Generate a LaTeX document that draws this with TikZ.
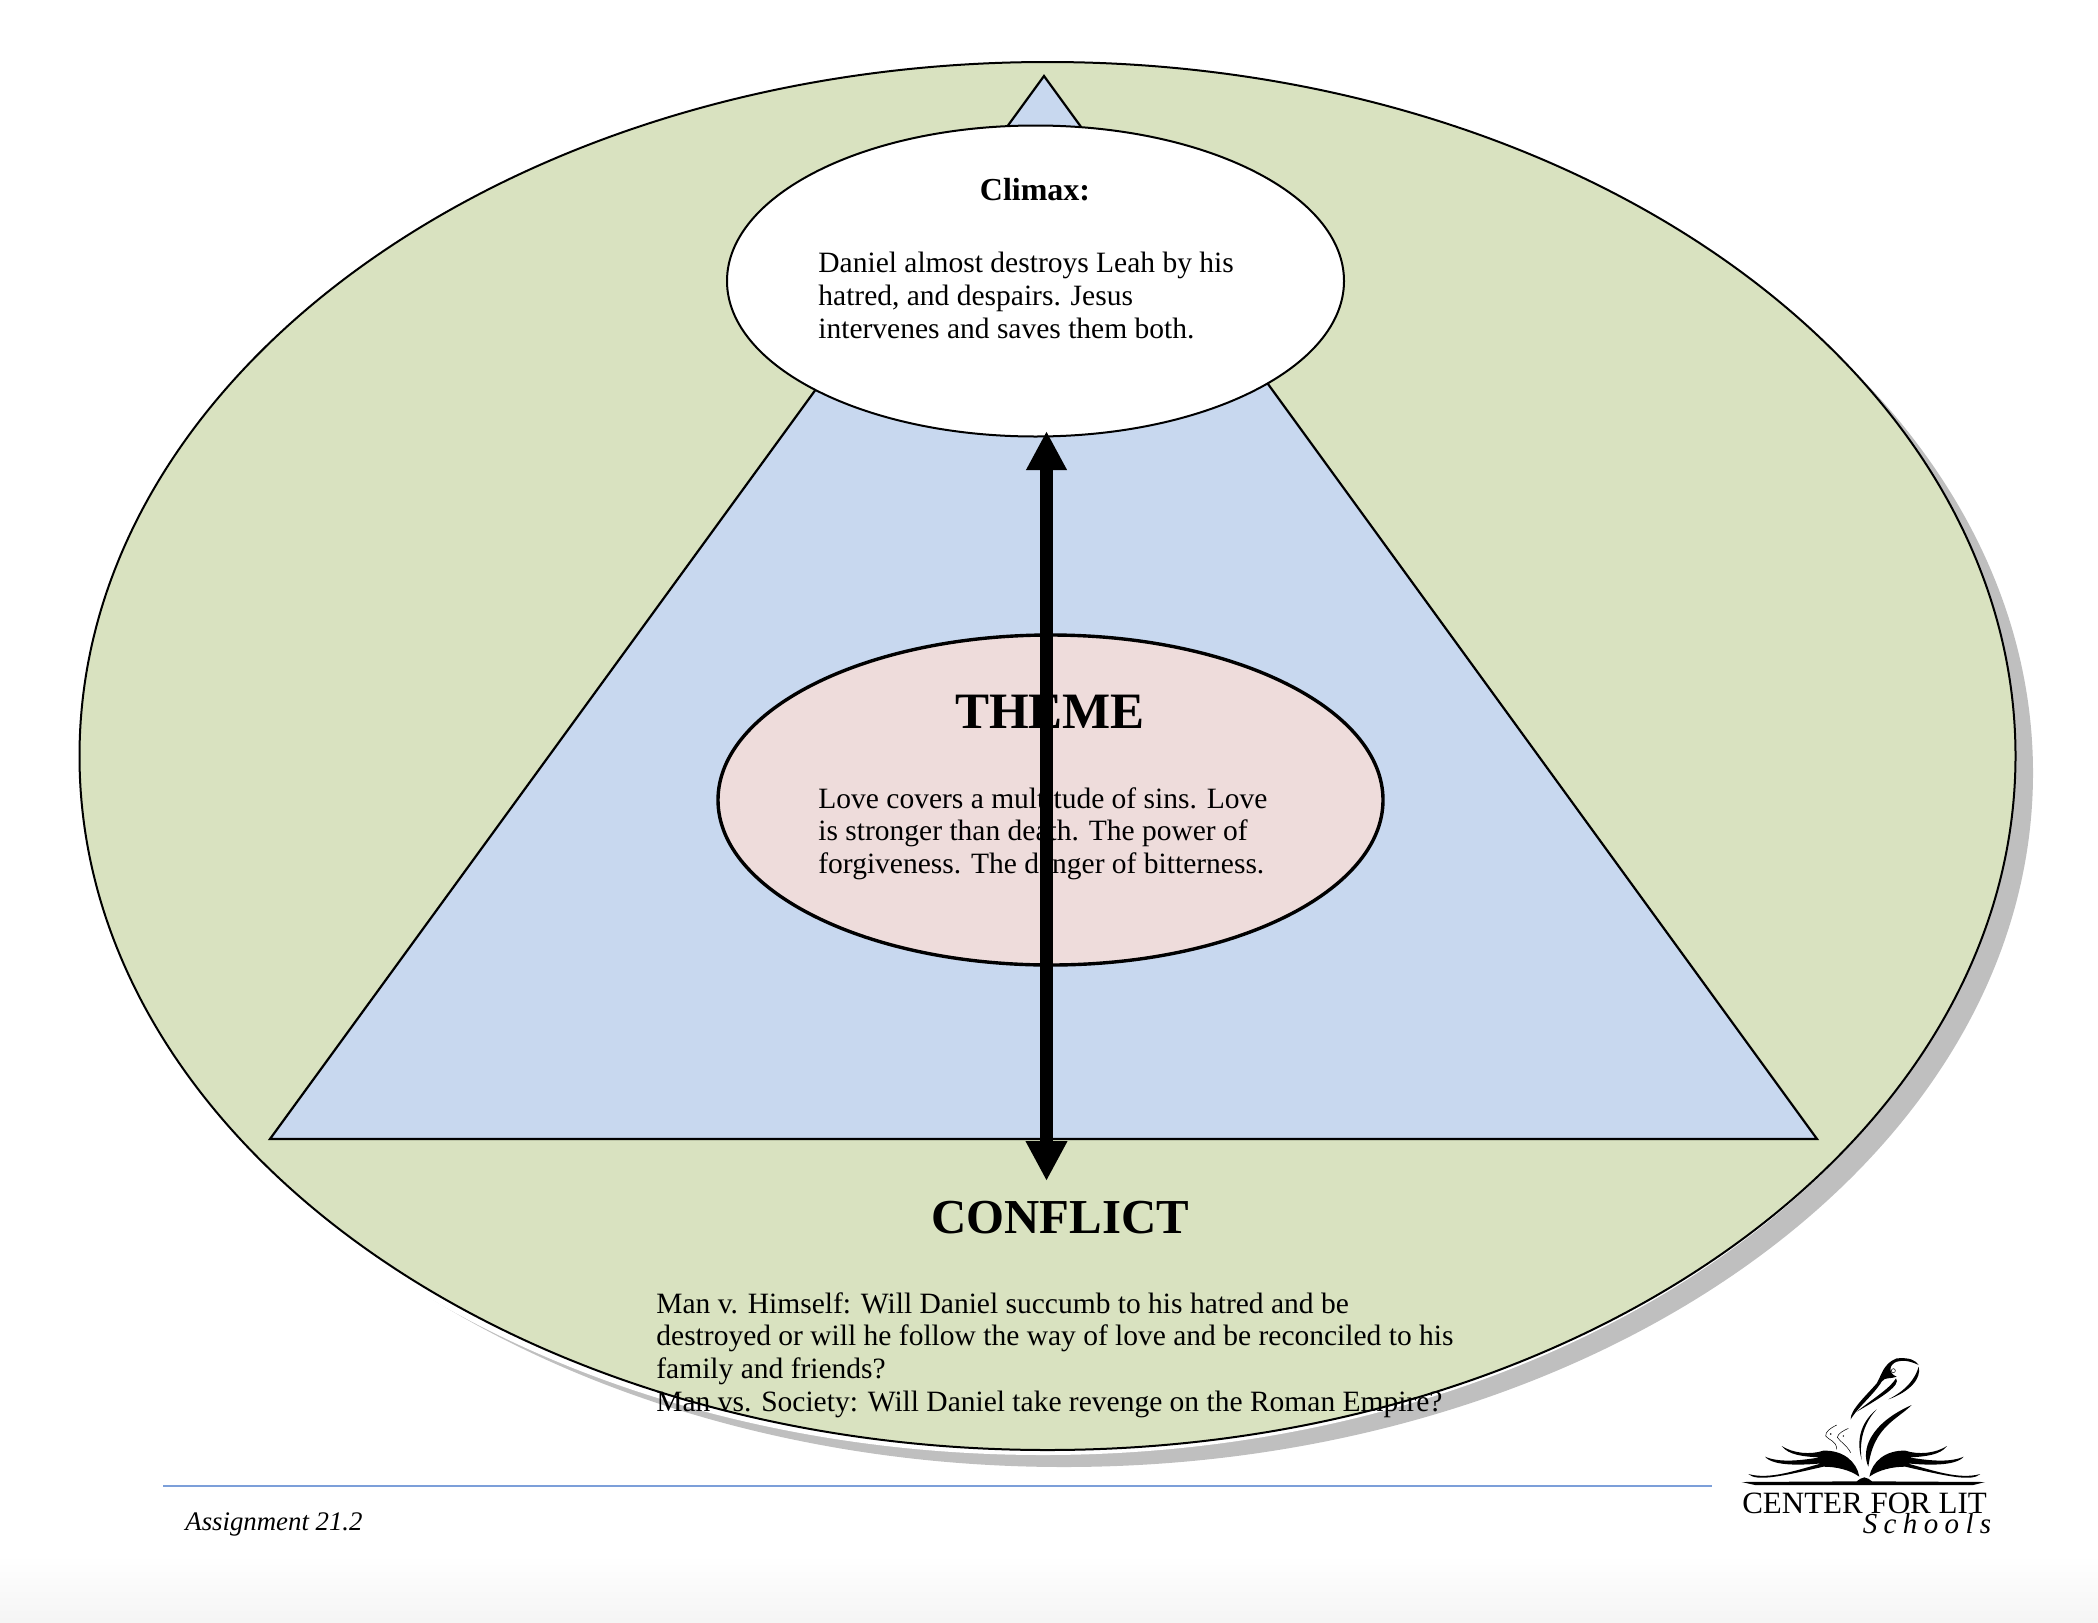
\documentclass[tikz,border=0pt]{standalone}
\usepackage{fontspec}
\setmainfont{Liberation Serif}
\newfontfamily\logoscript[LetterSpace=22]{Liberation Serif}
\usetikzlibrary{arrows.meta,positioning,shapes.geometric}
\definecolor{plotgreen}{HTML}{D9E2C0}
\definecolor{plotblue}{HTML}{C8D8EF}
\definecolor{themepink}{HTML}{EEDCDB}
\definecolor{shadowgray}{HTML}{BFBFBF}
\definecolor{rulecolor}{HTML}{7C9FD9}

\begin{document}
\begin{tikzpicture}[
        x=.5pt,y=-.5pt,
        oval/.style={ellipse,inner sep=0pt,outer sep=0pt},
        bodytext/.style={inner sep=0pt,anchor=north west,align=left,font=\fontsize{14.75}{16.4}\selectfont},
        heading/.style={inner sep=0pt,anchor=base,font=\fontsize{24.4}{26}\selectfont\bfseries},
        feather/.style={fill=black,draw=none},
        fineline/.style={draw=black,line width=.25pt}
      ]
      \useasboundingbox (0,0) rectangle (2098,1622);
      \shade[top color=white,bottom color=black!4] (0,1555) rectangle (2098,1622);

      % outer oval and its shadow
      \node[oval,fill=shadowgray,minimum width=969pt,minimum height=694pt] (shadow) at (1064,773) {};
      \node[oval,fill=white,minimum width=969pt,minimum height=694pt] (gap) at (1043,761) {};
      \node[oval,draw,line width=1pt,fill=plotgreen,minimum width=968pt,minimum height=694pt] (plot) at (1047.5,756) {};

      % plot triangle
      \coordinate (peak) at (1044,76);
      \coordinate (baseleft) at (270,1139);
      \coordinate (baseright) at (1817,1139);
      \draw[line width=1.1pt,fill=plotblue,line join=miter] (peak) -- (baseleft) -- (baseright) -- cycle;

      \node[oval,draw,line width=1pt,fill=white,minimum width=308.5pt,minimum height=155.5pt] (climax) at (1035.5,281) {};
      \node[oval,draw,line width=1.7pt,fill=themepink,minimum width=332.5pt,minimum height=165pt] (theme) at (1050.5,800) {};

      \node[inner sep=0pt,anchor=base,font=\fontsize{16}{18}\selectfont\bfseries] (climaxtitle) at (1035,200) {Climax:};
      \node[bodytext] (climaxtext) at (818,252) {Daniel almost destroys Leah by his\\hatred, and despairs. Jesus\\intervenes and saves them both.};
      \node[heading,font=\fontsize{25.5}{27}\selectfont\bfseries] (themetitle) at (1050,728) {THEME};
      \node[bodytext] (themetext) at (818,787) {Love covers a multitude of sins. Love\\is stronger than death. The power of\\forgiveness. The danger of bitterness.};
      \node[heading] (conflicttitle) at (1060,1233) {CONFLICT};
      \node[bodytext] (conflicttext) at (656,1292) {Man v. Himself: Will Daniel succumb to his hatred and be\\destroyed or will he follow the way of love and be reconciled to his\\family and friends?\\Man vs. Society: Will Daniel take revenge on the Roman Empire?};

      \coordinate (arrowtop) at (1046.5,431);
      \coordinate (arrowbottom) at (1046.5,1181);
      \draw[{Triangle[width=19pt,length=19.5pt]}-{Triangle[width=19.5pt,length=20pt]},line width=6.75pt] (arrowtop) -- (arrowbottom);

      % footer
      \coordinate (ruleleft) at (163,1486);
      \coordinate (ruleright) at (1712,1486);
      \draw[rulecolor,line width=.9pt] (ruleleft) -- (ruleright);
      \node[inner sep=0pt,anchor=base west,font=\fontsize{13.4}{15}\selectfont\itshape] (assignment) at (185,1530) {Assignment 21.2};

      % logo, in units of a third of a pixel
      \begin{scope}[shift={(1680,1320)},x=.16667pt,y=-.16667pt]
        \fill (185,486) -- (530,484) .. controls (538,480) and (542,472) .. (553,472) .. controls (564,472) and (568,480) .. (576,484) -- (915,486) -- (880,495) -- (225,495) -- cycle;
        \foreach \side in {1,-1} {
          \begin{scope}[shift={(553,0)},xscale=\side]
            \path[feather] (-15,470) .. controls (-23,425) and (-63,390) .. (-123,392) .. controls (-163,405) and (-213,400) .. (-248,378) .. controls (-228,405) and (-183,410) .. (-133,412) .. controls (-183,420) and (-253,430) .. (-298,410) .. controls (-273,440) and (-183,435) .. (-128,430) .. controls (-203,450) and (-283,480) .. (-348,462) .. controls (-323,485) and (-253,470) .. (-123,440) .. controls (-83,440) and (-43,450) .. (-15,470) -- cycle;
          \end{scope}
        }
        % pelican
        \path[feather] (512,298) .. controls (510,270) and (560,225) .. (590,190) .. controls (605,165) and (610,130) .. (650,115) .. controls (690,112) and (705,120) .. (716,135) .. controls (695,125) and (670,118) .. (650,125) .. controls (625,135) and (625,160) .. (650,170) .. controls (630,178) and (615,170) .. (605,185) .. controls (580,225) and (535,260) .. (512,298) -- cycle;
        \path[feather] (530,275) .. controls (580,235) and (630,205) .. (648,175) .. controls (665,195) and (600,235) .. (530,275) -- cycle;
        \path[feather] (716,140) .. controls (725,175) and (690,215) .. (625,238) .. controls (680,210) and (706,175) .. (716,140) -- cycle;
        \path[feather] (695,255) .. controls (650,300) and (580,320) .. (565,440) .. controls (542,390) and (570,310) .. (695,255) -- cycle;
        \path[feather] (590,268) .. controls (550,300) and (525,350) .. (545,420) .. controls (535,350) and (560,300) .. (590,268) -- cycle;
        \fill[white] (640,152) circle (6);
        \draw[fineline] (640,152) circle (6);
        \draw[fineline] (470,315) .. controls (450,325) and (436,335) .. (437,348) .. controls (445,360) and (470,362) .. (470,388);
        \draw[fineline] (505,325) .. controls (490,332) and (474,340) .. (472,352) .. controls (480,365) and (500,375) .. (512,398);
        \fill (452,342) circle (2.5);
        \fill (490,348) circle (2.5);
      \end{scope}
      \node[inner sep=0pt,anchor=base,font=\fontsize{15.5}{17}\selectfont] (logoname) at (1864.5,1513) {CENTER FOR LIT};
      \node[inner sep=0pt,anchor=base,font=\fontsize{14.5}{15}\logoscript\itshape] (logoschools) at (1927,1533) {Schools};
    \end{tikzpicture}
\end{document}
